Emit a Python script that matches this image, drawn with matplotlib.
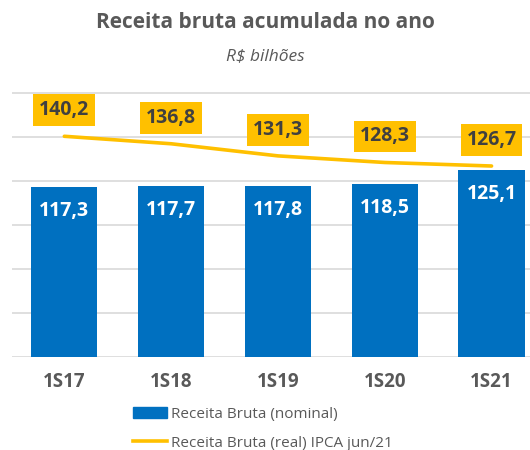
import matplotlib.pyplot as plt

plt.rcParams['font.family'] = ['Open Sans', 'DejaVu Sans']

periods = ["1S17", "1S18", "1S19", "1S20", "1S21"]
nominal = [117.3, 117.7, 117.8, 118.5, 125.1]
real = [140.2, 136.8, 131.3, 128.3, 126.7]

def fmt(v):
    return f"{v:.1f}".replace(".", ",")

W, H = 530, 450
fig = plt.figure(figsize=(W / 100, H / 100), dpi=100)
# axes in pixel coords: x 12..530, y 92..357 (top-down)
ax = fig.add_axes([12 / W, 1 - 357 / H, (530 - 12) / W, (357 - 92) / H])

x = list(range(len(periods)))
ax.bar(x, nominal, width=0.62, color="#0070C0", zorder=2)
ax.plot(x, real, color="#FFC000", linewidth=2.6, solid_capstyle="round", zorder=3)

for xi, v in zip(x, nominal):
    ax.annotate(fmt(v), (xi, v), xytext=(0, -24), textcoords="offset pixels",
                ha="center", va="center", color="white", fontsize=14,
                fontweight="bold", zorder=4)

for xi, v in zip(x, real):
    ax.annotate(fmt(v), (xi, v), xytext=(0, 26), textcoords="offset pixels",
                ha="center", va="center", color="#404040", fontsize=14,
                fontweight="bold", zorder=5,
                bbox=dict(boxstyle="square,pad=0.3", facecolor="#FFC000", edgecolor="none"))

ax.set_ylim(40, 160.3)
ax.set_xlim(-0.49, 4.36)
ax.set_yticks([40, 60, 80, 100, 120, 140, 160])
ax.set_yticklabels([])
ax.tick_params(axis="y", length=0)
ax.set_xticks(x)
ax.set_xticklabels(periods, fontsize=13.5, fontweight="bold", color="#595959")
ax.tick_params(axis="x", length=0, pad=11)
ax.grid(axis="y", color="#D9D9D9", linewidth=1.2, zorder=0)
ax.set_axisbelow(True)
for s in ax.spines.values():
    s.set_visible(False)

fig.text(0.5, 1 - 23 / H, "Receita bruta acumulada no ano", ha="center", va="center",
         fontsize=15, fontweight="bold", color="#595959")
fig.text(0.5, 1 - 56 / H, "R$ bilhões", ha="center", va="center",
         fontsize=12.5, style="italic", color="#595959")

handles = [plt.Rectangle((0, 0), 1, 1, color="#0070C0"),
           plt.Line2D([0], [0], color="#FFC000", linewidth=2.6)]
leg = fig.legend(handles, ["Receita Bruta (nominal)", "Receita Bruta (real) IPCA jun/21"],
                 loc="upper left", bbox_to_anchor=(133 / W, 1 - 407 / H), frameon=False,
                 fontsize=11, handlelength=2.2, handletextpad=0.3, labelspacing=0.9,
                 borderpad=0, borderaxespad=0)
for t in leg.get_texts():
    t.set_color("#595959")

fig.savefig("out.png", dpi=100)
